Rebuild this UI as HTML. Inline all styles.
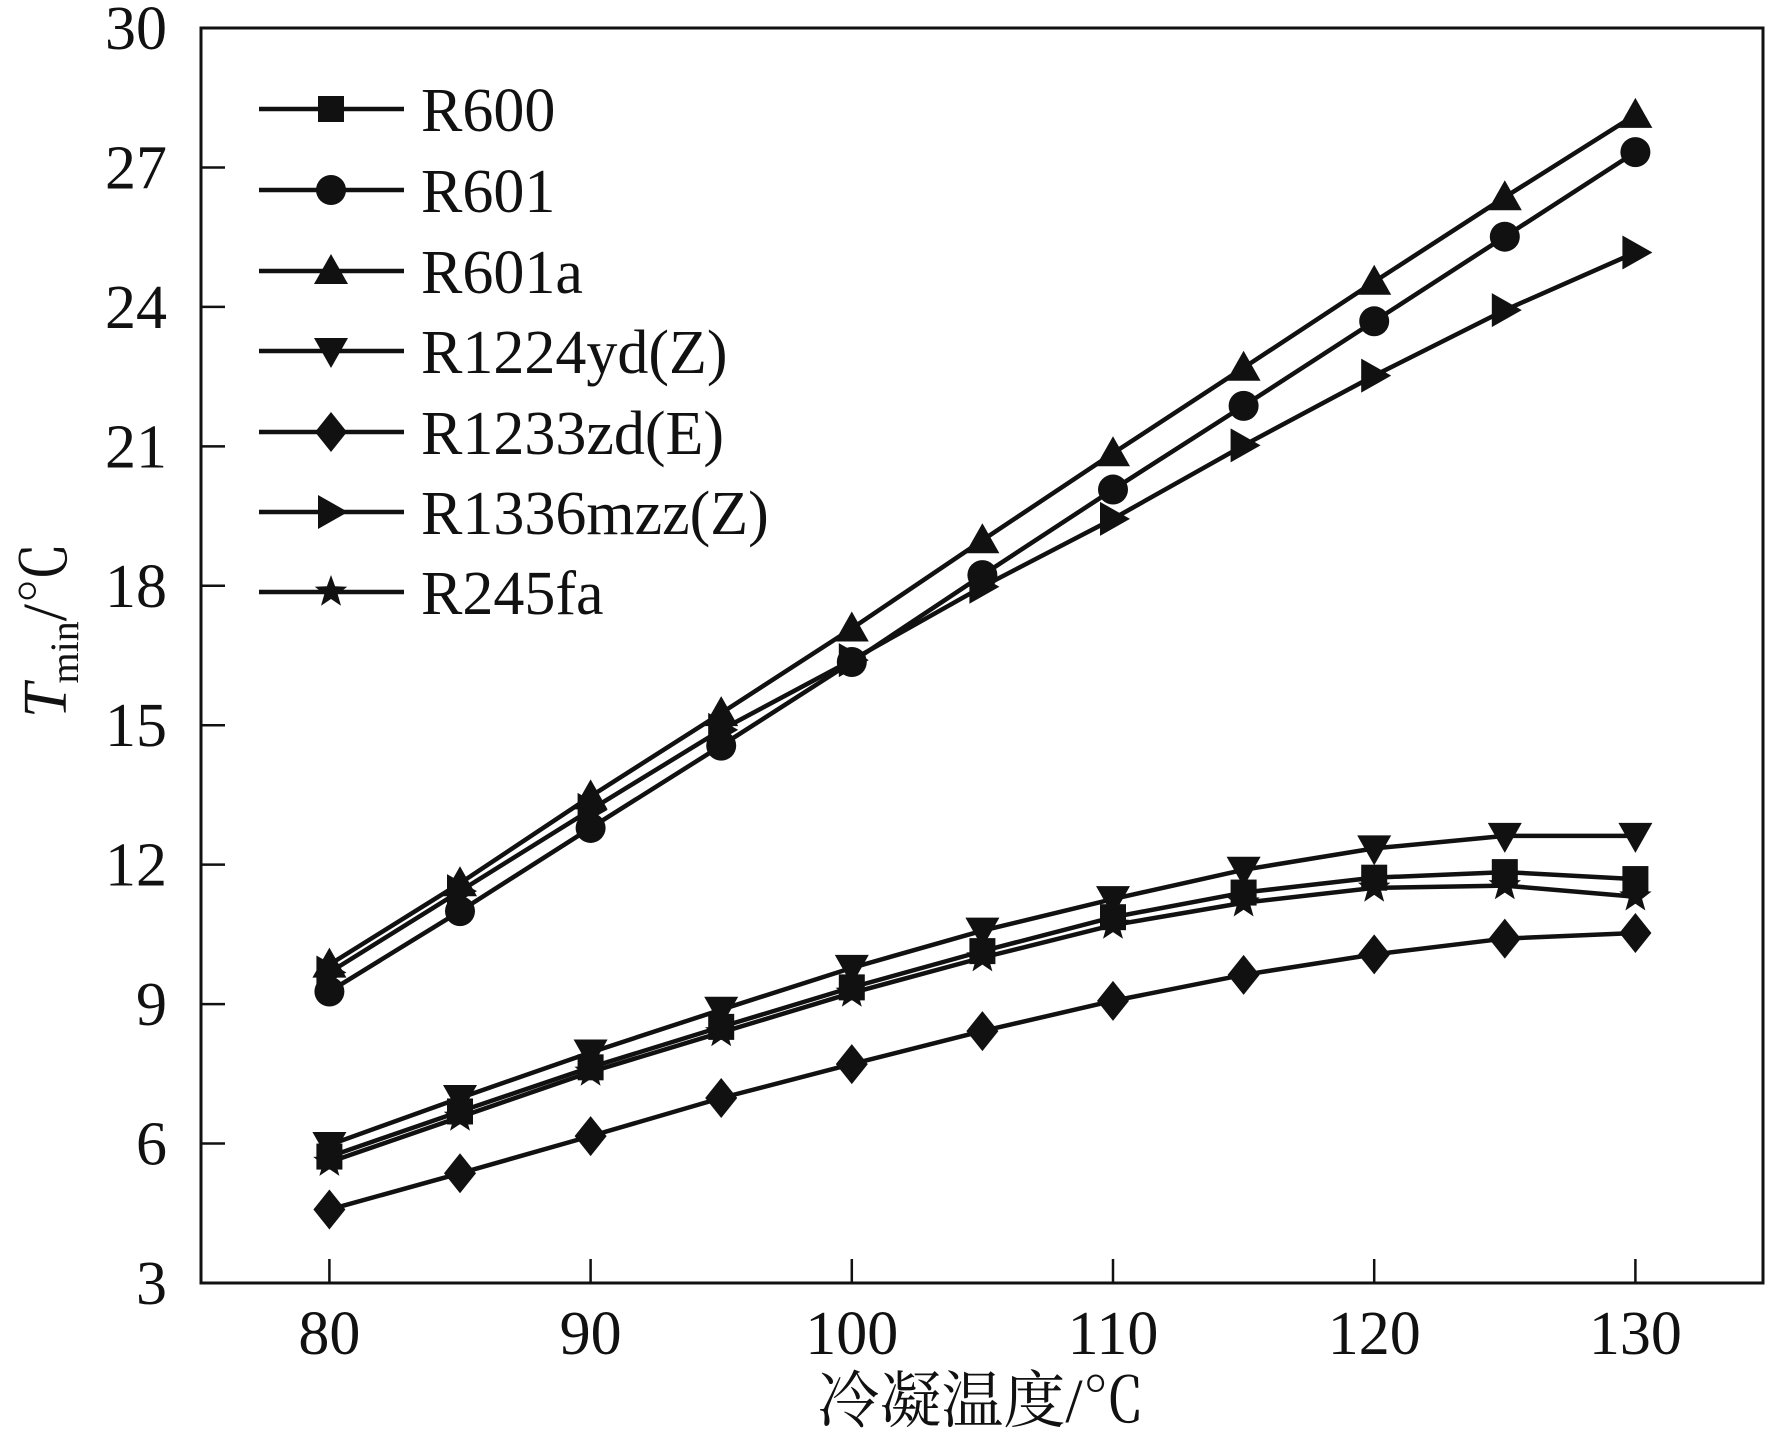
<!DOCTYPE html>
<html><head><meta charset="utf-8"><style>
body{margin:0;background:#fff}
svg{display:block}
text{font-family:"Liberation Serif","Times New Roman","Noto Serif CJK SC",serif;fill:#111}
</style></head><body>
<svg id="chart" width="1768" height="1444" viewBox="0 0 1768 1444" xmlns="http://www.w3.org/2000/svg"></svg>
<script>
const xValues=[80,85,90,95,100,105,110,115,120,125,130];
const seriesNames=["R600","R601","R601a","R1224yd(Z)","R1233zd(E)","R1336mzz(Z)","R245fa"];
const r600=[5.72,6.69,7.64,8.51,9.36,10.14,10.87,11.4,11.72,11.84,11.69];
const r601=[9.27,11.0,12.79,14.56,16.36,18.23,20.07,21.87,23.69,25.51,27.33];
const r601a=[9.85,11.6,13.47,15.26,17.08,18.98,20.85,22.69,24.54,26.36,28.13];
const r1224=[5.97,6.98,7.96,8.88,9.78,10.58,11.26,11.89,12.35,12.62,12.62];
const r1233=[4.58,5.36,6.16,6.98,7.71,8.42,9.07,9.63,10.07,10.41,10.53];
const r1336=[9.68,11.43,13.18,14.9,16.4,17.98,19.44,21.02,22.52,23.93,25.17];
const r245=[5.6,6.57,7.54,8.39,9.24,10.0,10.7,11.18,11.5,11.55,11.31];
const yTicks=[3,6,9,12,15,18,21,24,27,30];
const xTicks=[80,90,100,110,120,130];
const markers=["square","circle","up","down","diamond","right","star"];
const seriesData=[r600,r601,r601a,r1224,r1233,r1336,r245];

const L=201,R=1763,T=28,B=1283;
const X=v=>329.4+(v-80)*26.12;
const Y=v=>B-(v-3)*(B-T)/27;
const svg=document.getElementById('chart');
const NS="http://www.w3.org/2000/svg";
function mk(tag,attrs,parent){const e=document.createElementNS(NS,tag);for(const k in attrs)e.setAttribute(k,attrs[k]);(parent||svg).appendChild(e);return e;}

function marker(type,x,y,g){
  let e;const s=13;
  if(type==="square")e=mk('rect',{x:x-s,y:y-s,width:2*s,height:2*s},g);
  else if(type==="circle")e=mk('circle',{cx:x,cy:y,r:15},g);
  else if(type==="up")e=mk('polygon',{points:`${x},${y-17} ${x+17},${y+13} ${x-17},${y+13}`},g);
  else if(type==="down")e=mk('polygon',{points:`${x},${y+17} ${x+17},${y-13} ${x-17},${y-13}`},g);
  else if(type==="right")e=mk('polygon',{points:`${x+17},${y} ${x-13},${y-17} ${x-13},${y+17}`},g);
  else if(type==="diamond")e=mk('polygon',{points:`${x},${y-20} ${x+16},${y} ${x},${y+20} ${x-16},${y}`},g);
  else {let p=[];for(let i=0;i<10;i++){const r=i%2?7:17;const a=-Math.PI/2+i*Math.PI/5;p.push((x+r*Math.cos(a)).toFixed(1)+','+(y+r*Math.sin(a)).toFixed(1));}e=mk('polygon',{points:p.join(' ')},g);}
  e.setAttribute('fill','#111');
  
  
  return e;
}

const frame=mk('rect',{x:L,y:T,width:R-L,height:B-T,fill:'none',stroke:'#111','stroke-width':3});



yTicks.forEach(v=>{
  const y=Y(v);
  if(v>3&&v<30){const t=mk('line',{x1:L,y1:y,x2:L+24,y2:y,stroke:'#111','stroke-width':2.5});
  
  }
  const lb=mk('text',{x:167,y:y+21,'font-size':62,'text-anchor':'end'});lb.textContent=v;
  
  
});
xTicks.forEach(v=>{
  const x=X(v);
  const t=mk('line',{x1:x,y1:B,x2:x,y2:B-24,stroke:'#111','stroke-width':2.5});
  
  
  const lb=mk('text',{x:x,y:1354,'font-size':62,'text-anchor':'middle'});lb.textContent=v;
  
  
});

const xt=mk('text',{x:981,y:1422,'font-size':62,'text-anchor':'middle'});xt.textContent='冷凝温度/℃';


const yt=mk('text',{transform:'translate(66,630) rotate(-90)','font-size':62,'text-anchor':'middle'});
yt.innerHTML='<tspan font-style="italic">T</tspan><tspan font-size="40" dy="12">min</tspan><tspan dy="-12">/℃</tspan>';



seriesData.forEach((d,i)=>{
  const g=mk('g',{});
  
  
  const pl=mk('polyline',{points:d.map((v,j)=>X(xValues[j])+','+Y(v)).join(' '),fill:'none',stroke:'#111','stroke-width':4.5},g);
  
  
  d.forEach((v,j)=>marker(markers[i],X(xValues[j]),Y(v),g));
});

const legRows=[109,190,271,351,432,512,592];
const leg=mk('g',{});


seriesNames.forEach((n,i)=>{
  const y=legRows[i];
  const g=mk('g',{},leg);
  
  
  mk('line',{x1:259,y1:y,x2:404,y2:y,stroke:'#111','stroke-width':4.5},g);
  marker(markers[i],331,y,g);
  const t=mk('text',{x:421,y:y+22,'font-size':62},g);t.textContent=n;
});
</script>
</body></html>
